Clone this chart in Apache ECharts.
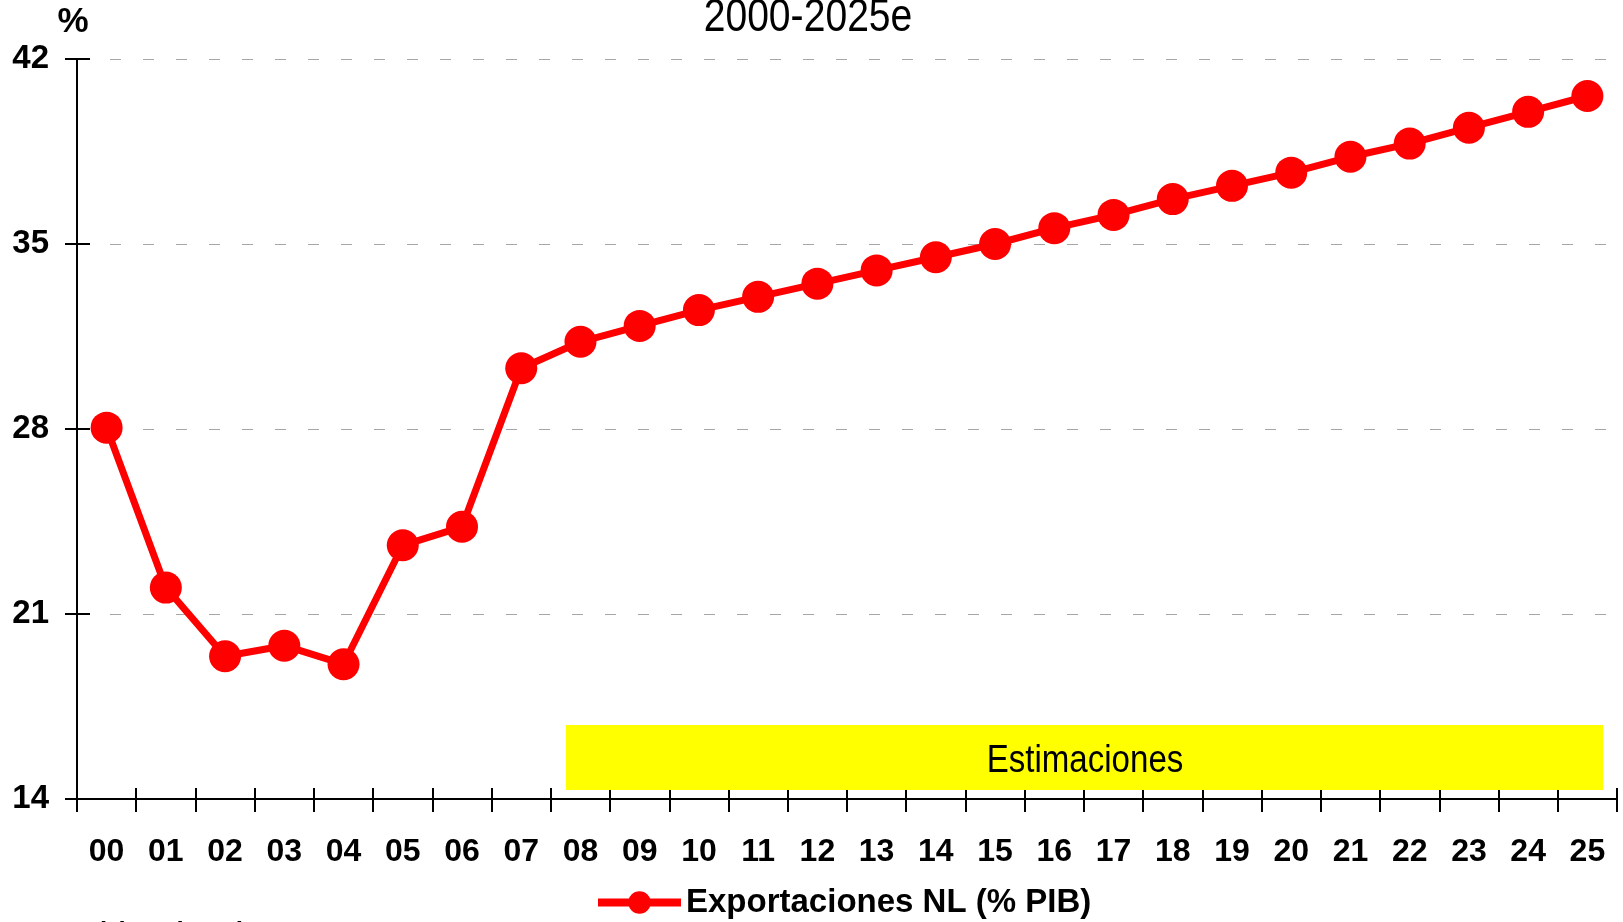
<!DOCTYPE html>
<html>
<head>
<meta charset="utf-8">
<script src="https://cdn.jsdelivr.net/npm/echarts@6/dist/echarts.min.js"></script>
<style>
html,body{margin:0;padding:0;background:#fff;}
#c{width:1623px;height:922px;}
</style>
</head>
<body>
<div id="c"></div>
<script>
// ---- data ----
const categories = ['00','01','02','03','04','05','06','07','08','09','10','11','12','13','14','15','16','17','18','19','20','21','22','23','24','25'];
const exportValues = [28.05, 22.0, 19.4, 19.8, 19.1, 23.6, 24.3, 30.3, 31.3, 31.9, 32.5, 33.0, 33.5, 34.0, 34.5, 35.0, 35.6, 36.1, 36.7, 37.2, 37.7, 38.3, 38.8, 39.4, 40.0, 40.6];
const yTicks = [14, 21, 28, 35, 42];
const seriesName = 'Exportaciones NL (% PIB)';
const titleText = '2000-2025e';
const unitText = '%';
const boxText = 'Estimaciones';
const noteText = '(e) Estimaciones';

const SANS = '"Liberation Sans", Arial, sans-serif';

const chart = echarts.init(document.getElementById('c'), null, {renderer: 'canvas'});
const yMin = yTicks[0], yMax = yTicks[yTicks.length - 1], yStep = yTicks[1] - yTicks[0];

chart.setOption({
  animation: false,
  backgroundColor: '#ffffff',
  grid: {left: 77, right: 6, top: 59, bottom: 123, containLabel: false, outerBoundsMode: 'none'},
  legend: {
    data: [seriesName],
    left: 594, top: 886, padding: 0,
    itemWidth: 83, itemHeight: 28, itemGap: 0,
    lineStyle: {width: 8},
    textStyle: {fontFamily: SANS, fontWeight: 'bold', fontSize: 33, color: '#000'}
  },
  xAxis: [{
    type: 'category', data: categories, boundaryGap: true, position: 'bottom',
    axisLine: {show: true, lineStyle: {color: '#000', width: 2}},
    axisTick: {show: true, inside: false, length: 13, interval: 0, lineStyle: {color: '#000', width: 2}},
    axisLabel: {interval: 0, margin: 37, fontFamily: SANS, fontWeight: 'bold', fontSize: 32, color: '#000'},
    splitLine: {show: false}
  }, {
    type: 'category', data: categories, boundaryGap: true, position: 'bottom',
    axisLine: {show: false},
    axisTick: {show: true, inside: true, length: 11, interval: 0, lineStyle: {color: '#000', width: 2}},
    axisLabel: {show: false},
    splitLine: {show: false}
  }],
  yAxis: [{
    type: 'value', min: yMin, max: yMax, interval: yStep, position: 'left',
    axisLine: {show: true, lineStyle: {color: '#000', width: 2}},
    axisTick: {show: true, inside: false, length: 12, lineStyle: {color: '#000', width: 2}},
    axisLabel: {margin: 28, fontFamily: SANS, fontWeight: 'bold', fontSize: 33, color: '#000'},
    splitLine: {show: true, lineStyle: {color: '#a6a6a6', width: 1.2, type: [11, 22]}}
  }, {
    type: 'value', min: yMin, max: yMax, interval: yStep, position: 'left',
    axisLine: {show: false},
    axisTick: {show: true, inside: true, length: 13, lineStyle: {color: '#000', width: 2}},
    axisLabel: {show: false},
    splitLine: {show: false}
  }],
  graphic: [
    {type: 'rect', left: 566, top: 725, z: 1, shape: {width: 1037, height: 65}, style: {fill: '#ffff00'}},
    {type: 'text', x: 1085, y: 762, scaleX: 0.87, z: 2, style: {text: boxText, fontFamily: SANS, fontSize: 38, fill: '#000', align: 'center', verticalAlign: 'middle'}},
    {type: 'text', x: 808, y: 18, scaleX: 0.85, style: {text: titleText, fontFamily: SANS, fontSize: 46, fill: '#000', align: 'center', verticalAlign: 'middle'}},
    {type: 'text', x: 73, y: 22, style: {text: unitText, fontFamily: SANS, fontWeight: 'bold', fontSize: 35, fill: '#000', align: 'center', verticalAlign: 'middle'}},
    {type: 'text', x: 97, y: 920, style: {text: noteText, fontFamily: SANS, fontWeight: 'bold', fontSize: 26, fill: '#000', align: 'left', verticalAlign: 'top'}}
  ],
  series: [{
    name: seriesName, type: 'line', data: exportValues, xAxisIndex: 0, yAxisIndex: 0,
    symbol: 'circle', symbolSize: 32, z: 5,
    lineStyle: {color: '#ff0000', width: 7},
    itemStyle: {color: '#ff0000'}
  }]
});
</script>
</body>
</html>
